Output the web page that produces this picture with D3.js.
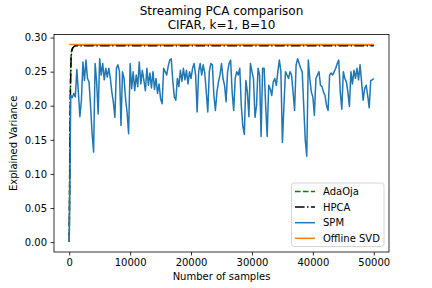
<!DOCTYPE html>
<html>
<head>
<meta charset="utf-8">
<script src="https://cdn.jsdelivr.net/npm/d3@7"></script>
<style>
body{margin:0;background:#fff;}
svg{display:block;font-family:"DejaVu Sans",sans-serif;}
</style>
</head>
<body>
<svg id="chart" width="432" height="288"></svg>
<script>
// ---- data ----
const spmStep = 250;
const spmValues = [
0.000,0.215,0.212,0.218,0.213,0.253,0.220,0.184,0.208,0.264,
0.237,0.267,0.240,0.235,0.200,0.160,0.132,0.262,0.235,0.188,
0.269,0.245,0.262,0.238,0.255,0.242,0.255,0.240,0.220,0.205,
0.183,0.255,0.260,0.250,0.171,0.250,0.240,0.210,0.190,0.159,
0.262,0.225,0.250,0.222,0.245,0.228,0.264,0.232,0.252,0.238,
0.222,0.255,0.230,0.248,0.226,0.250,0.224,0.240,0.218,0.232,
0.210,0.203,0.255,0.250,0.245,0.258,0.267,0.269,0.237,0.213,
0.208,0.240,0.228,0.252,0.236,0.255,0.238,0.252,0.232,0.250,
0.240,0.255,0.262,0.245,0.191,0.250,0.262,0.245,0.260,0.248,
0.220,0.191,0.250,0.262,0.260,0.215,0.193,0.220,0.235,0.245,
0.262,0.240,0.230,0.206,0.250,0.262,0.267,0.220,0.193,0.240,
0.250,0.245,0.255,0.200,0.170,0.158,0.237,0.220,0.184,0.262,
0.250,0.240,0.183,0.200,0.255,0.245,0.155,0.255,0.255,0.200,
0.155,0.230,0.225,0.215,0.235,0.240,0.230,0.250,0.267,0.250,
0.146,0.200,0.250,0.245,0.240,0.250,0.245,0.220,0.193,0.260,
0.269,0.262,0.255,0.250,0.200,0.150,0.126,0.267,0.240,0.220,
0.213,0.186,0.240,0.245,0.250,0.230,0.228,0.220,0.215,0.200,
0.193,0.245,0.248,0.245,0.250,0.255,0.262,0.267,0.220,0.195,
0.250,0.240,0.235,0.220,0.199,0.250,0.232,0.252,0.240,0.255,
0.238,0.260,0.235,0.208,0.225,0.230,0.215,0.197,0.237,0.238,
0.240
];
const adaojaX = [0, 100, 200, 300, 400, 600, 800, 1000, 1500, 2000, 5000, 10000, 20000, 30000, 40000, 50000];
const adaojaY = [0.010, 0.150, 0.240, 0.272, 0.282, 0.286, 0.288, 0.288, 0.289, 0.289, 0.289, 0.289, 0.289, 0.289, 0.289, 0.289];
const hpcaX = [0, 100, 200, 300, 400, 600, 800, 1000, 1500, 2000, 5000, 10000, 20000, 30000, 40000, 50000];
const hpcaY = [0.000, 0.120, 0.220, 0.268, 0.280, 0.285, 0.287, 0.288, 0.288, 0.288, 0.288, 0.288, 0.288, 0.288, 0.288, 0.288];
const svdX = [0, 50000];
const svdY = [0.290, 0.290];
const xTicks = [0, 10000, 20000, 30000, 40000, 50000];
const yTicks = [0.00, 0.05, 0.10, 0.15, 0.20, 0.25, 0.30];
const seriesNames = ["AdaOja", "HPCA", "SPM", "Offline SVD"];
const titleLines = ["Streaming PCA comparison", "CIFAR, k=1, B=10"];

// ---- layout ----
const L = 54, R = 389, T = 34.5, B = 252;
const svg = d3.select("#chart");
const x = d3.scaleLinear().domain([-2500, 52500]).range([L, R]);
const y = d3.scaleLinear().domain([-0.0145, 0.3045]).range([B, T]);

const series = [
  {name: seriesNames[0], xs: adaojaX, ys: adaojaY, color: "#008000", dash: "5.55,2.4"},
  {name: seriesNames[1], xs: hpcaX, ys: hpcaY, color: "#000000", dash: "9.6,2.4,1.5,2.4"},
  {name: seriesNames[2], xs: spmValues.map((v,i)=>i*spmStep), ys: spmValues, color: "#1f77b4", dash: null},
  {name: seriesNames[3], xs: svdX, ys: svdY, color: "#ff7f0e", dash: null}
];

svg.append("defs").append("clipPath").attr("id","clip")
  .append("rect").attr("x",L).attr("y",T).attr("width",R-L).attr("height",B-T);

const line = d3.line().x(d=>x(d[0])).y(d=>y(d[1]));
const g = svg.append("g").attr("clip-path","url(#clip)");
series.forEach(s=>{
  g.append("path")
    .datum(s.xs.map((xv,i)=>[xv, s.ys[i]]))
    .attr("d", line)
    .attr("fill","none")
    .attr("stroke", s.color)
    .attr("stroke-width",1.5)
    .attr("stroke-linejoin","round")
    .attr("stroke-dasharray", s.dash);
});

// axes
const xAxis = svg.append("g").attr("transform",`translate(0,${B})`)
  .call(d3.axisBottom(x).tickValues(xTicks).tickFormat(d3.format("d")).tickSize(3.5).tickPadding(3.5));
const yAxis = svg.append("g").attr("transform",`translate(${L},0)`)
  .call(d3.axisLeft(y).tickValues(yTicks).tickFormat(d3.format(".2f")).tickSize(3.5).tickPadding(3.5));
[xAxis, yAxis].forEach(a=>{
  a.select(".domain").remove();
  a.selectAll(".tick line").attr("stroke","#000").attr("stroke-width",0.8);
  a.selectAll(".tick text").attr("font-size",10).attr("fill","#000").attr("font-family","DejaVu Sans");
});

// spines
svg.append("rect").attr("x",L).attr("y",T).attr("width",R-L).attr("height",B-T)
  .attr("fill","none").attr("stroke","#000").attr("stroke-width",0.8);

// titles
const cx = (L+R)/2;
svg.append("text").attr("x",cx).attr("y",15).attr("text-anchor","middle").attr("font-size",12).text(titleLines[0]);
svg.append("text").attr("x",cx).attr("y",29).attr("text-anchor","middle").attr("font-size",12).text(titleLines[1]);
svg.append("text").attr("x",cx).attr("y",280).attr("text-anchor","middle").attr("font-size",10).text("Number of samples");
svg.append("text").attr("transform",`translate(17,${(T+B)/2}) rotate(-90)`).attr("text-anchor","middle").attr("font-size",10).text("Explained Variance");

// legend
const lg = svg.append("g");
lg.append("rect").attr("x",291.5).attr("y",183).attr("width",92.5).attr("height",63.5)
  .attr("rx",2.5).attr("fill","#fff").attr("fill-opacity",0.8).attr("stroke","#cccccc").attr("stroke-width",0.8);
series.forEach((s,i)=>{
  const yy = 191.5 + i*15.6;
  lg.append("line").attr("x1",295).attr("x2",315).attr("y1",yy).attr("y2",yy)
    .attr("stroke",s.color).attr("stroke-width",1.5).attr("stroke-dasharray",s.dash);
  lg.append("text").attr("x",323).attr("y",yy+3.6).attr("font-size",10).text(s.name);
});
</script>
</body>
</html>
